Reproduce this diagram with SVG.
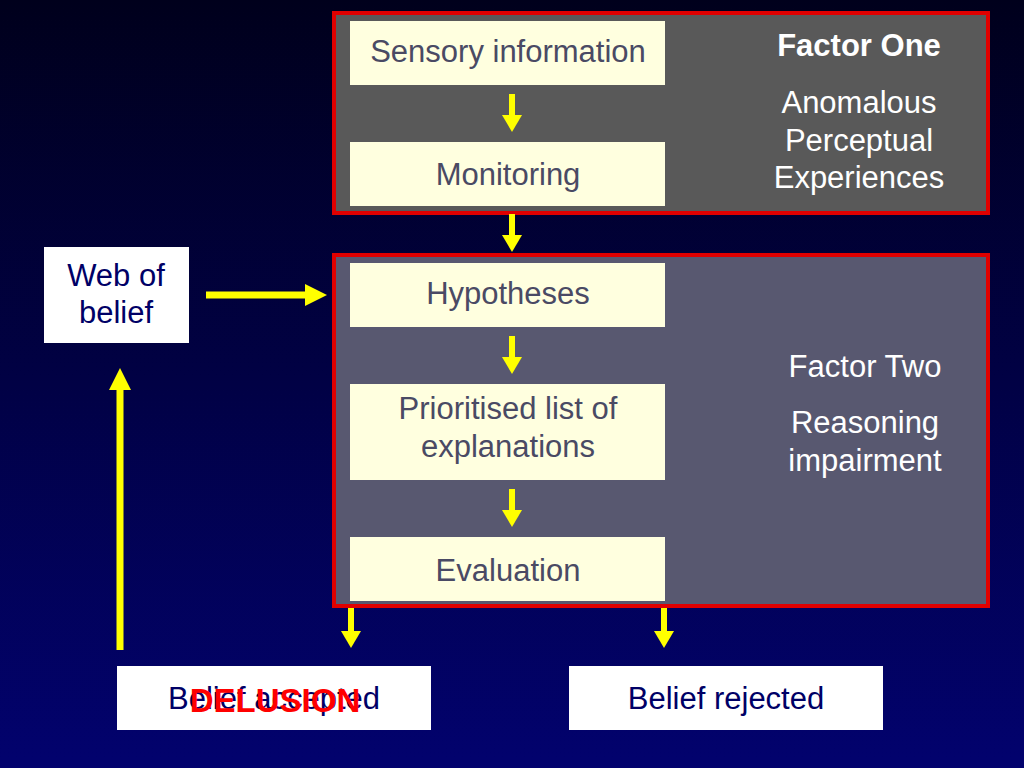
<svg xmlns="http://www.w3.org/2000/svg" width="1024" height="768" viewBox="0 0 1024 768">
<defs>
<linearGradient id="bg" x1="0" y1="0" x2="0" y2="1">
<stop offset="0" stop-color="#00001c"/>
<stop offset="1" stop-color="#02026e"/>
</linearGradient>
<marker id="ah" markerUnits="userSpaceOnUse" markerWidth="20" markerHeight="20" viewBox="0 0 17 20" refX="1" refY="10" orient="auto">
<path d="M0,0 L17,10 L0,20 z" fill="#ffff00"/>
</marker>
<marker id="ahb" markerUnits="userSpaceOnUse" markerWidth="22" markerHeight="22" viewBox="0 0 22 22" refX="1" refY="11" orient="auto">
<path d="M0,0 L22,11 L0,22 z" fill="#ffff00"/>
</marker>
<style>
.panel1{fill:#595959;stroke:#e00000;stroke-width:4}
.panel2{fill:#585870;stroke:#e00000;stroke-width:4}
.cream{fill:#ffffdf}
.white{fill:#ffffff}
.t{font-family:"Liberation Sans",Arial,sans-serif;font-size:31px;text-anchor:middle}
.ct{fill:#4a4a64}
.nt{fill:#000066}
.wt{fill:#ffffff}
.b{font-weight:bold}
.red{fill:#ff0000;font-weight:bold;font-size:33px}
.arr{stroke:#ffff00;stroke-width:6;fill:none}
.arrb{stroke:#ffff00;stroke-width:7;fill:none}
</style>
</defs>
<rect x="0" y="0" width="1024" height="768" fill="url(#bg)"/>

<g id="factor-one">
<rect class="panel1" x="334" y="13" width="654" height="200"/>
<text class="t wt b" x="859" y="56">Factor One</text>
<text class="t wt" x="859" y="113">Anomalous</text>
<text class="t wt" x="859" y="151">Perceptual</text>
<text class="t wt" x="859" y="188">Experiences</text>
</g>

<g id="factor-two">
<rect class="panel2" x="334" y="255" width="654" height="351"/>
<text class="t wt" x="865" y="377">Factor Two</text>
<text class="t wt" x="865" y="433">Reasoning</text>
<text class="t wt" x="865" y="471">impairment</text>
</g>

<g id="sensory">
<rect class="cream" x="350" y="21" width="315" height="64"/>
<text class="t ct" x="508" y="62">Sensory information</text>
</g>
<g id="monitoring">
<rect class="cream" x="350" y="142" width="315" height="64"/>
<text class="t ct" x="508" y="185">Monitoring</text>
</g>
<g id="hypotheses">
<rect class="cream" x="350" y="263" width="315" height="64"/>
<text class="t ct" x="508" y="304">Hypotheses</text>
</g>
<g id="prioritised">
<rect class="cream" x="350" y="384" width="315" height="96"/>
<text class="t ct" x="508" y="419">Prioritised list of</text>
<text class="t ct" x="508" y="457">explanations</text>
</g>
<g id="evaluation">
<rect class="cream" x="350" y="537" width="315" height="64"/>
<text class="t ct" x="508" y="581">Evaluation</text>
</g>

<g id="web-of-belief">
<rect class="white" x="44" y="247" width="145" height="96"/>
<text class="t nt" x="116" y="286">Web of</text>
<text class="t nt" x="116" y="323">belief</text>
</g>

<g id="belief-accepted">
<rect class="white" x="117" y="666" width="314" height="64"/>
<text class="t nt" x="274" y="709">Belief accepted</text>
<text class="t red" x="275" y="712">DELUSION</text>
</g>

<g id="belief-rejected">
<rect class="white" x="569" y="666" width="314" height="64"/>
<text class="t nt" x="726" y="709">Belief rejected</text>
</g>

<g id="connectors">
<line class="arr" x1="512" y1="94" x2="512" y2="116" marker-end="url(#ah)"/>
<line class="arr" x1="512" y1="214" x2="512" y2="236" marker-end="url(#ah)"/>
<line class="arr" x1="512" y1="336" x2="512" y2="358" marker-end="url(#ah)"/>
<line class="arr" x1="512" y1="489" x2="512" y2="511" marker-end="url(#ah)"/>
<line class="arr" x1="351" y1="608" x2="351" y2="632" marker-end="url(#ah)"/>
<line class="arr" x1="664" y1="608" x2="664" y2="632" marker-end="url(#ah)"/>
<line class="arrb" x1="206" y1="295" x2="306" y2="295" marker-end="url(#ahb)"/>
<line class="arrb" x1="120" y1="650" x2="120" y2="389" marker-end="url(#ahb)"/>
</g>
</svg>
